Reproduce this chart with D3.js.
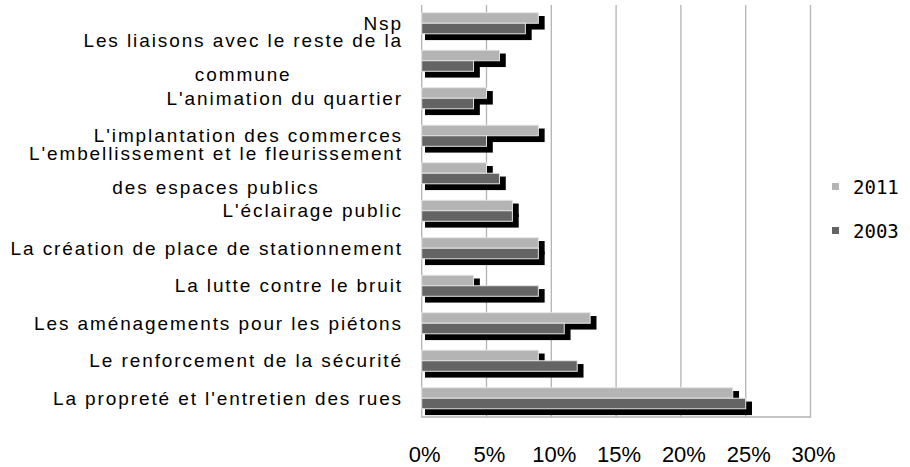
<!DOCTYPE html>
<html>
<head>
<meta charset="utf-8">
<script src="https://cdnjs.cloudflare.com/ajax/libs/d3/7.8.5/d3.min.js"></script>
<style>
	body { margin: 0; background: #fff; }
	svg { display: block; }
</style>
</head>
<body>
<div id="chart"></div>
<script>
// categories top to bottom, "\n" = line break in the label
var categories = [
	"Nsp",
	"Les liaisons avec le reste de la\ncommune",
	"L'animation du quartier",
	"L'implantation des commerces",
	"L'embellissement et le fleurissement\ndes espaces publics",
	"L'éclairage public",
	"La création de place de stationnement",
	"La lutte contre le bruit",
	"Les aménagements pour les piétons",
	"Le renforcement de la sécurité",
	"La propreté et l'entretien des rues"
];
var series = ["2011", "2003"];
var values2011 = [9, 6, 5, 9, 5, 7, 9, 4, 13, 9, 24];
var values2003 = [8, 4, 4, 5, 6, 7, 9, 9, 11, 12, 25];
var xTicks = [0, 5, 10, 15, 20, 25, 30];

var colours = { "2011": "#b4b4b4", "2003": "#646464" };

var width = 910, height = 467;
var plot = { left: 421.7, right: 810.5, top: 5, bottom: 417.5 };

var svg = d3.select("#chart").append("svg")
	.attr("width", width)
	.attr("height", height);

var x = d3.scaleLinear()
	.domain([0, 30])
	.range([plot.left, plot.right]);

var y = d3.scaleBand()
	.domain(categories)
	.range([plot.top, plot.bottom])
	.padding(0);

var ySub = d3.scaleBand()
	.domain(series)
	.range([0, y.bandwidth()])
	.paddingInner(0)
	.paddingOuter(0.78)
	.align(0.47);

var rows = categories.map(function(c, i) {
	return { cat: c, values: [
		{ key: "2011", value: values2011[i] },
		{ key: "2003", value: values2003[i] }
	] };
});

// grid lines
svg.append("g").selectAll("line")
	.data(xTicks)
	.enter().append("line")
	.attr("x1", function(d) { return x(d); })
	.attr("x2", function(d) { return x(d); })
	.attr("y1", plot.top)
	.attr("y2", plot.bottom)
	.attr("stroke", "#b3b3b3")
	.attr("stroke-width", 1.3);

svg.append("line")
	.attr("x1", plot.left).attr("x2", plot.right)
	.attr("y1", plot.bottom - 0.5).attr("y2", plot.bottom - 0.5)
	.attr("stroke", "#b3b3b3")
	.attr("stroke-width", 1.3);

var row = svg.append("g").selectAll(".row")
	.data(rows)
	.enter().append("g")
	.attr("class", "row")
	.attr("transform", function(d) { return "translate(0," + y(d.cat) + ")"; });

// shadows first
row.selectAll(".shadow")
	.data(function(d) { return d.values; })
	.enter().append("rect")
	.attr("class", "shadow")
	.attr("x", x(0) + 3.3)
	.attr("y", function(d) { return ySub(d.key) + 3.3; })
	.attr("width", function(d) { return x(d.value) - x(0) + 3; })
	.attr("height", ySub.bandwidth() + 3)
	.style("fill", "#000");

row.selectAll(".bar")
	.data(function(d) { return d.values; })
	.enter().append("rect")
	.attr("class", "bar")
	.attr("x", x(0))
	.attr("y", function(d) { return ySub(d.key); })
	.attr("width", function(d) { return x(d.value) - x(0); })
	.attr("height", ySub.bandwidth())
	.style("fill", function(d) { return colours[d.key]; })
	.style("stroke", "#e4e4e4")
	.style("stroke-width", 1);

// category labels
var labelRight = 403;
var label = svg.append("g").selectAll(".label")
	.data(categories)
	.enter().append("g")
	.attr("class", "label")
	.style("font-family", "'Liberation Sans', Arial, sans-serif")
	.style("font-size", "19px")
	.style("letter-spacing", "1.9px")
	.style("fill", "#000");

label.each(function(d) {
	var g = d3.select(this);
	var lines = d.split("\n");
	var c = y(d) + y.bandwidth() / 2;
	if (lines.length === 1) {
		g.append("text")
			.attr("x", labelRight)
			.attr("y", c + 6)
			.attr("text-anchor", "end")
			.text(lines[0]);
	} else {
		var first = g.append("text")
			.attr("x", labelRight)
			.attr("y", c + 3 - 17)
			.attr("text-anchor", "end")
			.text(lines[0]);
		var w = first.node().getComputedTextLength();
		g.append("text")
			.attr("x", labelRight - w / 2)
			.attr("y", c + 3 + 17)
			.attr("text-anchor", "middle")
			.text(lines[1]);
	}
});

// x axis labels
svg.append("g").selectAll(".tick-label")
	.data(xTicks)
	.enter().append("text")
	.attr("class", "tick-label")
	.attr("x", function(d) { return x(d) + 3; })
	.attr("y", 462)
	.attr("text-anchor", "middle")
	.style("font-family", "'Liberation Sans', Arial, sans-serif")
	.style("font-size", "22px")
	.style("fill", "#000")
	.text(function(d) { return d + "%"; });

// legend
var legend = svg.append("g").selectAll(".legend")
	.data(series)
	.enter().append("g")
	.attr("class", "legend")
	.attr("transform", function(d, i) { return "translate(832," + (183 + i * 44) + ")"; });

legend.append("rect")
	.attr("width", 7)
	.attr("height", 7)
	.style("fill", function(d) { return colours[d]; });

legend.append("text")
	.attr("x", 21)
	.attr("y", 11)
	.style("font-family", "'DejaVu Sans Mono', monospace")
	.style("font-size", "19px")
	.style("fill", "#000")
	.text(function(d) { return d; });
</script>
</body>
</html>
